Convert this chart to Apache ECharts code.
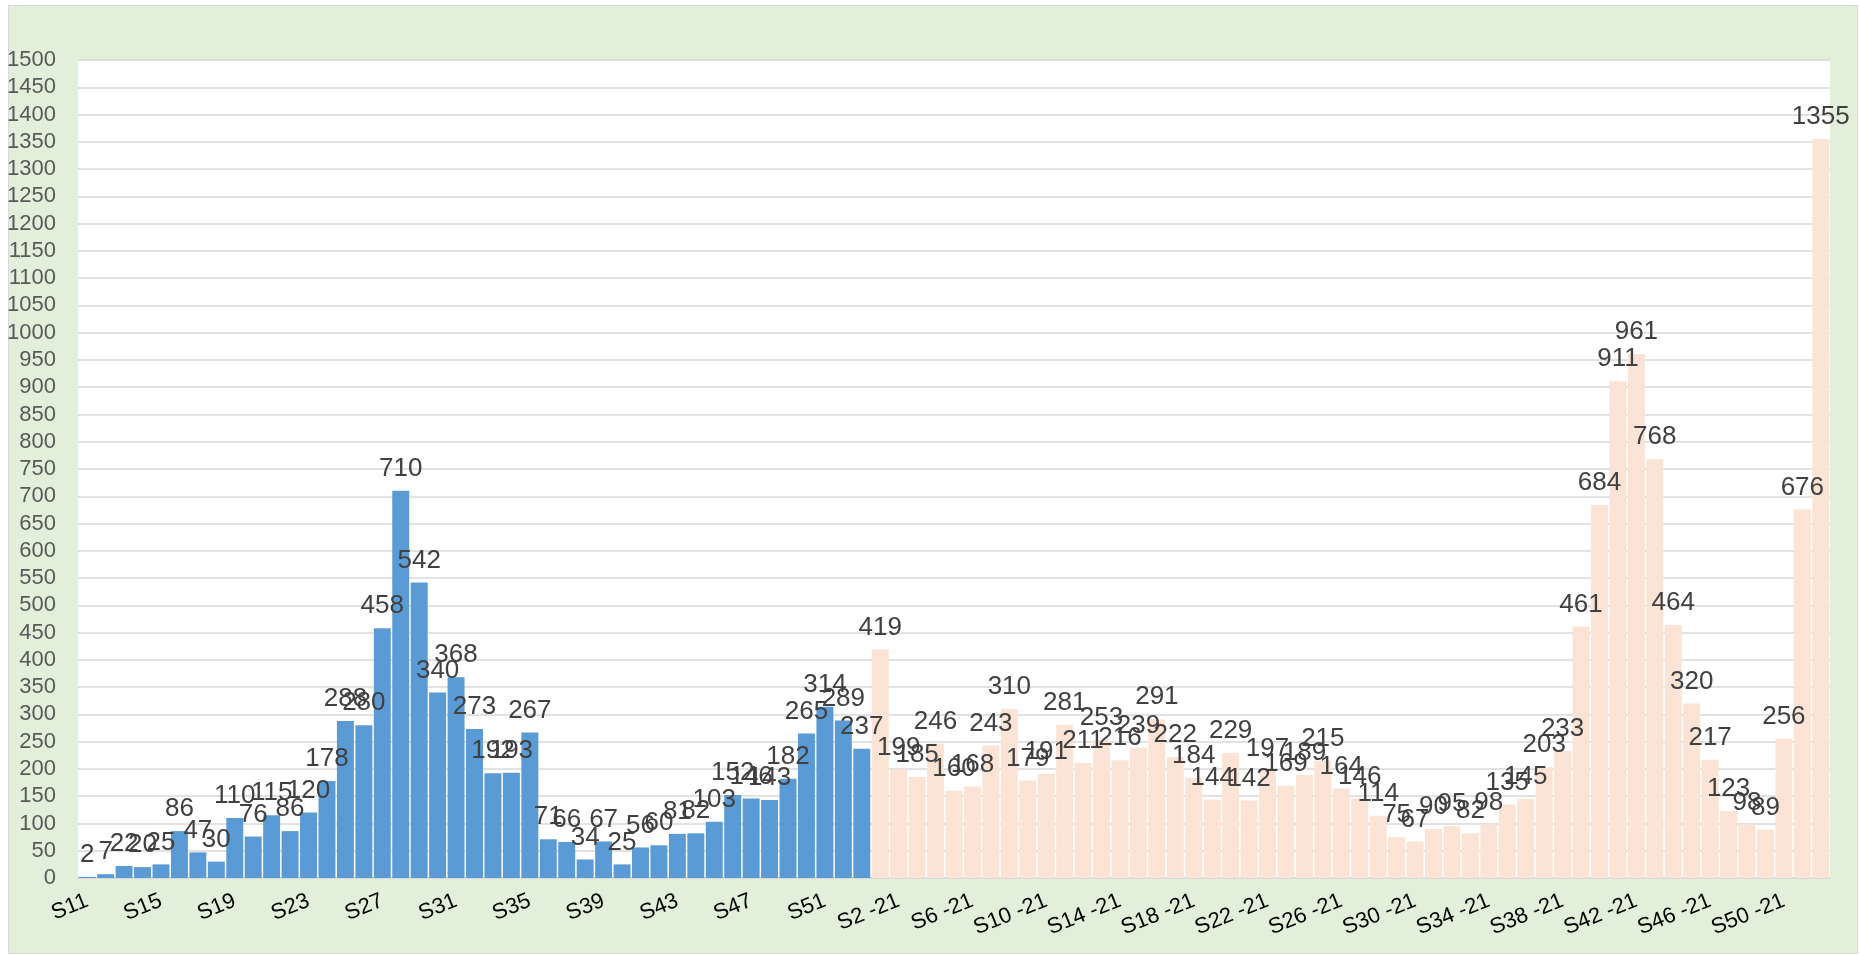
<!DOCTYPE html>
<html>
<head>
<meta charset="utf-8">
<script src="https://cdn.jsdelivr.net/npm/echarts@6/dist/echarts.min.js"></script>
<style>
  html, body { margin: 0; padding: 0; background: #ffffff; }
  #frame {
    position: absolute; left: 8px; top: 5px; width: 1848px; height: 947px;
    background: #e2efda; border: 1px solid #d9d9d9;
  }
  #chart { position: absolute; left: 0; top: 0; width: 1860px; height: 955px; }
</style>
</head>
<body>
<div id="frame"></div>
<div id="chart"></div>
<script>
// weekly counts, 2020 (S11..S53) and 2021 (S1 -21..S52 -21)
const weeks2020 = [];
for (let w = 11; w <= 53; w++) weeks2020.push("S" + w);
const weeks2021 = [];
for (let w = 1; w <= 52; w++) weeks2021.push("S" + w + " -21");
const categories = weeks2020.concat(weeks2021);

const values2020 = [
  2, 7, 22, 20, 25, 86, 47, 30, 110, 76, 115, 86, 120, 178, 288, 280, 458,
  710, 542, 340, 368, 273, 192, 193, 267, 71, 66, 34, 67, 25, 56, 60, 81, 82,
  103, 152, 146, 143, 182, 265, 314, 289, 237
];
const values2021 = [
  419, 199, 185, 246, 160, 168, 243, 310, 179, 191, 281, 211, 253, 216, 239,
  291, 222, 184, 144, 229, 142, 197, 169, 189, 215, 164, 146, 114, 75, 67, 90,
  95, 82, 98, 135, 145, 203, 233, 461, 684, 911, 961, 768, 464, 320, 217, 123,
  98, 89, 256, 676, 1355
];

const blank2021 = values2021.map(() => "-");
const blank2020 = values2020.map(() => "-");

const font = "'Liberation Sans', Arial, sans-serif";

const chart = echarts.init(document.getElementById("chart"));

const labelStyle = {
  show: true,
  position: "top",
  distance: 9,
  color: "#404040",
  fontFamily: font,
  fontSize: 26
};

chart.setOption({
  animation: false,
  grid: {
    left: 78, top: 60, right: 30, bottom: 77,
    show: true, backgroundColor: "#ffffff", borderWidth: 0
  },
  xAxis: {
    type: "category",
    data: categories,
    axisLine: { lineStyle: { color: "#d9d9d9", width: 2 } },
    axisTick: { show: false },
    axisLabel: {
      interval: 3,
      rotate: 22,
      margin: 22,
      color: "#000000",
      fontFamily: font,
      fontSize: 22
    }
  },
  yAxis: {
    type: "value",
    min: 0, max: 1500, interval: 50,
    axisLine: { show: false },
    axisTick: { show: false },
    splitLine: { lineStyle: { color: "#d9d9d9", width: 1.5 } },
    axisLabel: {
      margin: 22,
      color: "#595959",
      fontFamily: font,
      fontSize: 22,
      formatter: function (value) {
        return String(value);
      }
    }
  },
  series: [
    {
      type: "bar",
      data: values2020.concat(blank2021),
      barGap: "-100%",
      barCategoryGap: "8%",
      itemStyle: { color: "#5b9bd5" },
      label: labelStyle
    },
    {
      type: "bar",
      data: blank2020.concat(values2021),
      barCategoryGap: "8%",
      itemStyle: { color: "#fbe4d5" },
      label: labelStyle
    }
  ]
});
</script>
</body>
</html>
